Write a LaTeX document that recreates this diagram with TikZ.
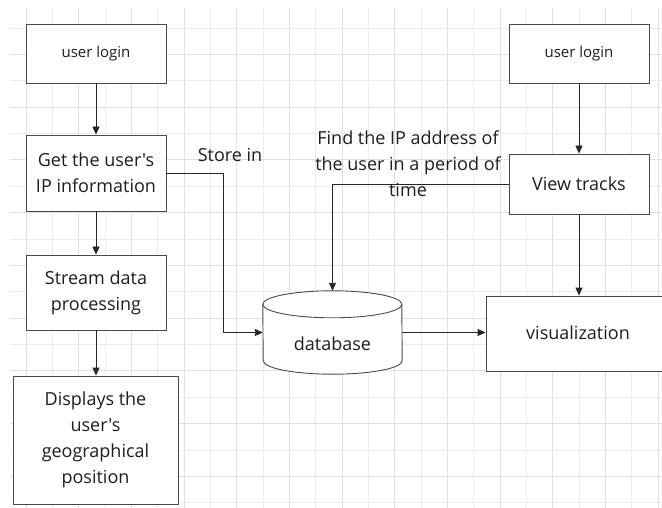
\documentclass[tikz,border=0pt]{standalone}
\usepackage{fontspec}
\setmainfont{Open Sans}[Ligatures=TeXOff]
\usetikzlibrary{arrows.meta,calc}
\definecolor{gridminor}{HTML}{EDEDED}
\definecolor{gridmajor}{HTML}{E0E0E0}
\definecolor{boxline}{HTML}{4A4A4A}
\definecolor{ink}{HTML}{1E1E1E}
\tikzset{
  box/.style={draw=boxline, line width=0.9pt, fill=white, text=ink,
    align=center, inner sep=0pt, font=\fontsize{18}{26}\selectfont},
  smallbox/.style={box, font=\fontsize{15}{20}\selectfont,
    text height=9pt, text depth=0pt},
  flow/.style={draw=black!85, line width=0.9pt,
    -{Triangle[length=8pt,width=7pt]}},
  lbl/.style={text=ink, align=center, inner sep=0pt,
    font=\fontsize{18}{26}\selectfont},
  cyl/.style={x radius=69.5pt, y radius=13.5pt},
}
\begin{document}
\begin{tikzpicture}[x=1pt, y=-1pt]
  \useasboundingbox (0,0) rectangle (662,508);
  \fill[white] (0,0) rectangle (662,508);
  % background grid
  \foreach \i in {0,...,24} {
    \pgfmathsetmacro{\gx}{26+26.33*\i}
    \pgfmathtruncatemacro{\odd}{mod(\i,2)}
    \ifnum\odd=0
      \draw[gridmajor, line width=0.8pt] (\gx,8) -- (\gx,508);
    \else
      \draw[gridminor, line width=0.8pt] (\gx,8) -- (\gx,508);
    \fi
  }
  \foreach \j in {0,...,18} {
    \pgfmathsetmacro{\gy}{28+26.37*\j}
    \pgfmathtruncatemacro{\odd}{mod(\j,2)}
    \ifnum\odd=0
      \draw[gridminor, line width=0.8pt] (10,\gy) -- (662,\gy);
    \else
      \draw[gridmajor, line width=0.8pt] (10,\gy) -- (662,\gy);
    \fi
  }

  % left column
  \node[smallbox, minimum width=140pt, minimum height=59pt] (loginA) at (96,53.5) {user login};
  \node[box, minimum width=140pt, minimum height=76pt] (getip) at (96,173) {Get the user's\\IP information};
  \node[box, minimum width=140pt, minimum height=75pt] (stream) at (96,292.5) {Stream data\\processing};
  \node[box, minimum width=165pt, minimum height=128pt] (show) at (95.5,440) {Displays the\\user's\\geographical\\position};

  % right column
  \node[smallbox, minimum width=140pt, minimum height=59pt] (loginB) at (579,53.5) {user login};
  \node[box, minimum width=140pt, minimum height=60pt] (view) at (579,184) {View tracks};
  \node[box, minimum width=184pt, minimum height=75pt] (vis) at (578,333.5) {};
  \node[lbl] (vistext) at (578,333) {visualization};

  % database cylinder
  \node[minimum width=139pt, minimum height=83pt, inner sep=0pt] (db) at (332.5,332.5) {};
  \filldraw[fill=white, draw=boxline, line width=0.9pt]
    ($(db.north west)+(0,13.5)$) arc[start angle=180, end angle=0, cyl]
    -- ($(db.south east)+(0,-13.5)$) arc[start angle=0, end angle=-180, cyl]
    -- cycle;
  \draw[boxline, line width=0.9pt]
    ($(db.north west)+(0,13.5)$) arc[start angle=180, end angle=360, cyl];
  \node[lbl] (dbtext) at (332.5,344) {database};

  % connectors
  \draw[flow] (loginA) -- (getip);
  \draw[flow] (getip) -- (stream);
  \draw[flow] (stream) -- (show.north -| stream.south);
  \draw[flow] (getip.east) -- ++(57,0) |- (db.west);
  \draw[flow] (loginB) -- (view);
  \draw[flow] (view.south) -- (vis.north -| view.south);
  \draw[flow] (view.west) -| (db.north);
  \draw[flow] (db.east) -- (vis.west |- db.east);

  % labels
  \node[lbl] (storelbl) at (230,155) {Store in};
  \node[lbl] (findlbl) at (408,164) {Find the IP address of\\the user in a period of\\time};
\end{tikzpicture}
\end{document}
